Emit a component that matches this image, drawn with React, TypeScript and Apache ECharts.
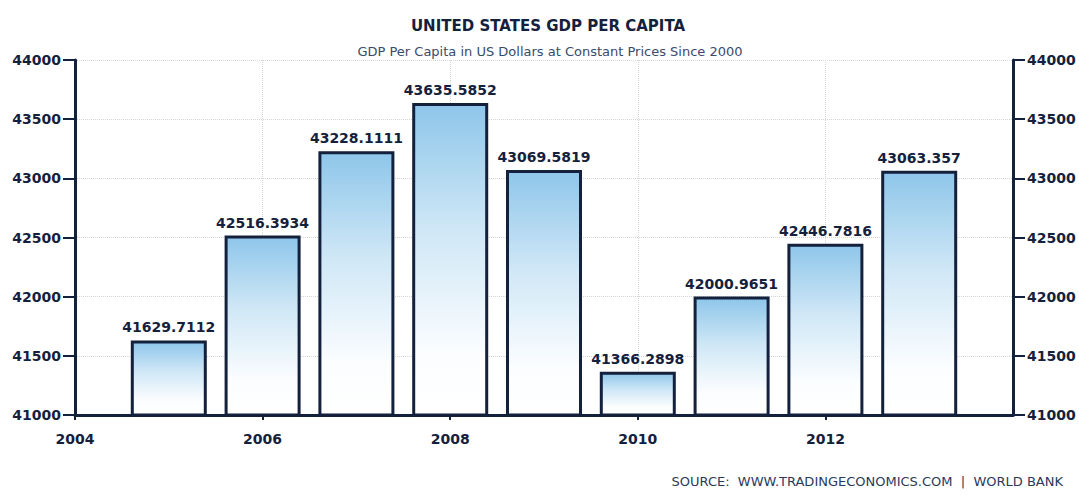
import React, { useEffect, useRef } from "react";
import * as echarts from "echarts";

const years = [2005, 2006, 2007, 2008, 2009, 2010, 2011, 2012, 2013];
const values = [41629.7112, 42516.3934, 43228.1111, 43635.5852, 43069.5819, 41366.2898, 42000.9651, 42446.7816, 43063.357];
const valueLabels = ["41629.7112", "42516.3934", "43228.1111", "43635.5852", "43069.5819", "41366.2898", "42000.9651", "42446.7816", "43063.357"];
const titleText = "UNITED STATES GDP PER CAPITA";
const subtitleText = "GDP Per Capita in US Dollars at Constant Prices Since 2000";
const sourceText = "SOURCE:  WWW.TRADINGECONOMICS.COM  |  WORLD BANK";

const NAVY = "#14213d";

export default function App() {
  const ref = useRef<HTMLDivElement>(null);
  useEffect(() => {
    const chart = echarts.init(ref.current!, null, { renderer: "svg" });
    const yAxisCommon = {
      type: "value" as const,
      min: 41000,
      max: 44000,
      interval: 500,
      axisLine: { show: true, lineStyle: { color: NAVY, width: 3 } },
      axisTick: { show: true, length: 12, lineStyle: { color: NAVY, width: 2 } },
      axisLabel: {
        color: NAVY,
        fontFamily: "DejaVu Sans",
        fontWeight: "bold" as const,
        fontSize: 14,
        margin: 14,
        formatter: (v: number) => String(v),
      },
    };
    chart.setOption({
      animation: false,
      backgroundColor: "#ffffff",
      title: [
        {
          text: titleText,
          left: 543,
          top: 13,
          textAlign: "center",
          textStyle: { color: NAVY, fontFamily: "DejaVu Sans", fontWeight: "bold", fontSize: 15 },
        },
        {
          text: subtitleText,
          left: 545,
          top: 40,
          textAlign: "center",
          textStyle: { color: "#3a4a6a", fontFamily: "DejaVu Sans", fontWeight: "normal", fontSize: 13 },
        },
      ],
      graphic: [
        {
          type: "text",
          right: 16,
          top: 475,
          style: {
            text: sourceText,
            fill: "#2a3a5a",
            font: "13px 'DejaVu Sans'",
          },
        },
      ],
      grid: { left: 75, right: 66, top: 60, bottom: 80 },
      xAxis: {
        type: "value",
        min: 2004,
        max: 2014,
        interval: 2,
        axisLine: { show: true, onZero: false, lineStyle: { color: NAVY, width: 3 } },
        axisTick: { show: true, length: 5, lineStyle: { color: NAVY, width: 2 } },
        axisLabel: {
          color: NAVY,
          fontFamily: "DejaVu Sans",
          fontWeight: "bold",
          fontSize: 14,
          margin: 17,
          showMaxLabel: false,
          formatter: (v: number) => String(v),
        },
        splitLine: { show: true, lineStyle: { color: "#d4d4d4", type: "dotted", width: 1 } },
      },
      yAxis: [
        {
          ...yAxisCommon,
          position: "left",
          splitLine: { show: true, lineStyle: { color: "#d4d4d4", type: "dotted", width: 1 } },
        },
        {
          ...yAxisCommon,
          position: "right",
          splitLine: { show: false },
        },
      ],
      series: [
        {
          type: "bar",
          yAxisIndex: 0,
          barWidth: 76,
          data: years.map((y, i) => [y, values[i]]),
          itemStyle: {
            color: new echarts.graphic.LinearGradient(0, 0, 0, 1, [
              { offset: 0, color: "#8ec6ea" },
              { offset: 0.4, color: "#cfe7f6" },
              { offset: 0.8, color: "#fbfdff" },
              { offset: 1, color: "#ffffff" },
            ]),
            borderColor: NAVY,
            borderWidth: 3,
          },
          label: {
            show: true,
            position: "top",
            distance: 6,
            color: NAVY,
            fontFamily: "DejaVu Sans",
            fontWeight: "bold",
            fontSize: 14,
            formatter: (p: any) => valueLabels[p.dataIndex],
          },
        },
      ],
    });
    return () => chart.dispose();
  }, []);
  return <div ref={ref} style={{ width: 1079, height: 495, position: "absolute", left: 0, top: 0 }} />;
}
